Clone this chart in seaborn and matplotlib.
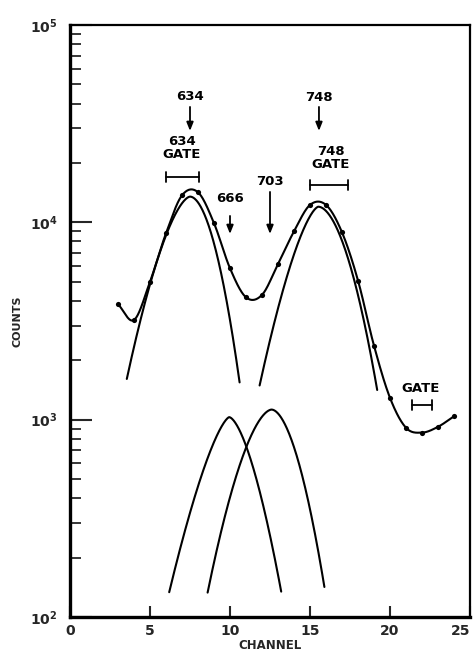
import numpy as np
import pandas as pd
import matplotlib
matplotlib.use("Agg")
import matplotlib.pyplot as plt
import seaborn as sns

# ---------------- data ----------------
channels = [3, 4, 5, 6, 7, 8, 9, 10, 11, 12, 13, 14, 15, 16, 17, 18, 19, 20, 21, 22, 23, 24]
counts = [3850, 3200, 5000, 8800, 13700, 14200, 9900, 5850, 4170, 4290, 6150, 9000,
          12250, 12250, 8900, 5070, 2370, 1290, 910, 860, 920, 1040]

# fitted component peaks (hand-drawn peak shapes: A * 10**(-(|x-mu|/w)**p))
comp_names = ["634", "666", "703", "748"]
comp_peak = [13500, 1030, 1125, 12000]
comp_center = [7.5, 9.95, 12.6, 15.52]
comp_w_left = [4.15, 4.08, 4.18, 3.92]
comp_p_left = [1.6, 1.42, 1.71, 1.5]
comp_w_right = [3.2, 3.51, 3.5, 3.83]
comp_p_right = [1.9, 1.6, 1.81, 1.85]
comp_start = [3.55, 6.2, 8.6, 11.85]
comp_end = [10.6, 13.2, 15.9, 19.2]

# energy markers
marker_labels = ["634", "666", "703", "748"]
marker_channels = [7.5, 10.0, 12.5, 15.56]

# gates
gate_labels = ["634\nGATE", "748\nGATE", "GATE"]
gate_start = [6.0, 15.0, 21.4]
gate_end = [8.06, 17.4, 22.6]

x_ticks = [0, 5, 10, 15, 20, 25]
y_ticks = [1e2, 1e3, 1e4, 1e5]
y_tick_labels = [r"$\mathbf{10^2}$", r"$\mathbf{10^3}$", r"$\mathbf{10^4}$", r"$\mathbf{10^5}$"]


def catmull_rom(x, y, per_seg=30):
    x = np.asarray(x, float)
    y = np.asarray(y, float)
    n = len(x)
    m = np.empty(n)
    m[1:-1] = (y[2:] - y[:-2]) / (x[2:] - x[:-2])
    m[0] = (y[1] - y[0]) / (x[1] - x[0])
    m[-1] = (y[-1] - y[-2]) / (x[-1] - x[-2])
    xs_all, ys_all = [], []
    for i in range(n - 1):
        h = x[i + 1] - x[i]
        t = np.linspace(0, 1, per_seg, endpoint=(i == n - 2))
        h00 = 2 * t**3 - 3 * t**2 + 1
        h10 = t**3 - 2 * t**2 + t
        h01 = -2 * t**3 + 3 * t**2
        h11 = t**3 - t**2
        xs_all.append(x[i] + t * h)
        ys_all.append(h00 * y[i] + h10 * h * m[i] + h01 * y[i + 1] + h11 * h * m[i + 1])
    return np.concatenate(xs_all), np.concatenate(ys_all)


# ---------------- style ----------------
sns.set_style("ticks")
plt.rcParams["font.family"] = ["DejaVu Sans"]
plt.rcParams["mathtext.fontset"] = "dejavusans"

fig = plt.figure(figsize=(4.77, 6.56), dpi=100)
ax = fig.add_axes([70 / 477, 1 - 617 / 656, 400 / 477, 592 / 656])

# smooth total curve through data (log space)
xs, lys = catmull_rom(channels, np.log10(counts))
df_curve = pd.DataFrame({"channel": xs, "counts": 10 ** lys})
sns.lineplot(data=df_curve, x="channel", y="counts", ax=ax, color="black", lw=1.5,
             sort=False, estimator=None)

# components
rows = []
for name, A, mu, wl, pl, wr, pr, a, e in zip(comp_names, comp_peak, comp_center,
                                              comp_w_left, comp_p_left, comp_w_right,
                                              comp_p_right, comp_start, comp_end):
    xc = np.linspace(a, e, 300)
    d = np.abs(xc - mu)
    drop = np.where(xc < mu, (d / wl) ** pl, (d / wr) ** pr)
    yc = A * 10 ** (-drop)
    rows.append(pd.DataFrame({"channel": xc, "counts": yc, "comp": name}))
df_comp = pd.concat(rows)
sns.lineplot(data=df_comp, x="channel", y="counts", units="comp", estimator=None,
             ax=ax, color="black", lw=1.5, sort=False)

# data points
df_pts = pd.DataFrame({"channel": channels, "counts": counts})
sns.scatterplot(data=df_pts, x="channel", y="counts", ax=ax, color="black", s=14,
                edgecolor="black", linewidth=0, zorder=5)

ax.set_yscale("log")
ax.set_xlim(0, 25)
ax.set_ylim(1e2, 1e5)


def py2c(py):
    return 10 ** (2 + (617 - py) / 197.3)


txt_kw = dict(ha="center", va="center", fontsize=9.5, fontweight="bold", color="black")
arrow_kw = dict(arrowstyle="-|>,head_length=0.5,head_width=0.2", color="black", lw=1.3,
                shrinkA=0, shrinkB=0)

label_py = [97, 199, 182, 98]
arrow_from_py = [107, 216, 192, 107]
arrow_to_py = [131, 234, 234, 131]
for lab, ch, lpy, apy0, apy1 in zip(marker_labels, marker_channels, label_py,
                                     arrow_from_py, arrow_to_py):
    ax.text(ch, py2c(lpy), lab, **txt_kw)
    ax.annotate("", xy=(ch, py2c(apy1)), xytext=(ch, py2c(apy0)), arrowprops=arrow_kw)

gate_text_x = [7.0, 16.3, 21.9]
gate_text_py = [148, 158, 389]
gate_bar_py = [177, 185, 405]
for lab, g0, g1, tx, tpy, bpy in zip(gate_labels, gate_start, gate_end, gate_text_x,
                                    gate_text_py, gate_bar_py):
    ax.text(tx, py2c(tpy), lab, linespacing=1.0, **txt_kw)
    yb = py2c(bpy)
    ax.plot([g0, g1], [yb, yb], color="black", lw=1.3)
    for g in (g0, g1):
        ax.plot([g, g], [py2c(bpy - 5), py2c(bpy + 5)], color="black", lw=1.3)

# axes styling
ax.set_xticks(x_ticks)
ax.set_xticklabels([str(t) for t in x_ticks])
ax.set_yticks(y_ticks)
ax.set_yticklabels(y_tick_labels)
ax.tick_params(axis="x", direction="in", length=8, width=1.5, labelsize=10, pad=5,
               top=False)
ax.tick_params(axis="y", which="major", direction="in", length=16, width=1.5,
               labelsize=10, pad=9, right=False)
ax.tick_params(axis="y", which="minor", direction="in", length=8, width=1.3, right=False)
for tick in ax.xaxis.get_major_ticks():
    tick.label1.set_fontweight("bold")
ax.xaxis.get_major_ticks()[-1].label1.set_horizontalalignment("right")
ax.set_xlabel("CHANNEL", fontsize=8.5, fontweight="bold", labelpad=1)
ax.set_ylabel("COUNTS", fontsize=8, fontweight="bold", labelpad=5)

ax.spines["left"].set_linewidth(2.4)
ax.spines["bottom"].set_linewidth(2.4)
ax.spines["top"].set_linewidth(1.6)
ax.spines["right"].set_linewidth(1.6)
for s in ax.spines.values():
    s.set_visible(True)
    s.set_color("black")

fig.savefig("out.png", dpi=100, facecolor="white")
